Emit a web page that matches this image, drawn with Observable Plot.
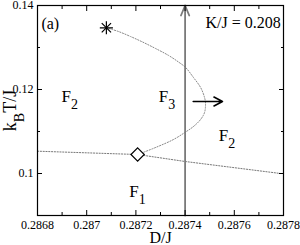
<!DOCTYPE html>
<html><head><meta charset="utf-8">
<script src="https://cdn.jsdelivr.net/npm/d3@7"></script>
<script src="https://cdn.jsdelivr.net/npm/@observablehq/plot@0.6"></script>
<style>
html,body{margin:0;padding:0;background:#fff;}
#chart svg, #chart svg text{font-family:"Liberation Serif","Times New Roman",Times,serif !important;}
#chart g[aria-label="x-axis label"] text{font-size:16px;}
#chart g[aria-label="y-axis label"] text{font-size:18px;}
</style></head><body><div id="chart"></div>
<script>
// ---- tick values and labels ----
const xMajor = [0.2868, 0.2870, 0.2872, 0.2874, 0.2876, 0.2878];
const xTickLabels = ["0.2868", "0.287", "0.2872", "0.2874", "0.2876", "0.2878"];
const xMinor = [0.2869, 0.2871, 0.2873, 0.2875, 0.2877];
const yMajor = [0.10, 0.12, 0.14];
const yTickLabels = ["0.1", "0.12", "0.14"];
const yMinor = [0.11, 0.13];

// ---- F3 boundary (from critical end point * to tricritical point diamond) ----
const curveD = [0.287080, 0.287129, 0.287178, 0.287227, 0.287280, 0.287333, 0.287373, 0.287402, 0.287434, 0.287463, 0.287479, 0.287483, 0.287479, 0.287463, 0.287434, 0.287402, 0.287353, 0.287280, 0.287207];
const curveT = [0.13469, 0.13381, 0.13262, 0.13131, 0.12976, 0.12810, 0.12655, 0.12524, 0.12286, 0.12048, 0.11810, 0.11667, 0.11452, 0.11286, 0.11119, 0.10988, 0.10810, 0.10619, 0.10452];

// ---- F1 / F2 boundary ----
const lowerD = [0.286800, 0.287207, 0.287400, 0.287788];
const lowerT = [0.10531, 0.10452, 0.10286, 0.10000];

// ---- special points ----
const starD = [0.287080], starT = [0.13469];
const diamondD = [0.287207], diamondT = [0.10452];

// ---- arrows ----
const vArrowD = [0.2874], vArrowT1 = [0.09], vArrowT2 = [0.14];
const hArrowD1 = [0.287433], hArrowD2 = [0.287552], hArrowT = [0.11714];

// ---- phase labels and notes ----
const phaseNames = ["F_{2}", "F_{3}", "F_{2}", "F_{1}"];
const phaseD = [0.286898, 0.287293, 0.287537, 0.287173];
const phaseT = [0.11843, 0.11843, 0.10914, 0.09581];
const noteTexts = ["(a)", "K/J = 0.208"];
const noteD = [0.286816, 0.287483];
const noteT = [0.13571, 0.13595];

const curve = curveD.map((d, i) => ({D: d, T: curveT[i]}));
const lower = lowerD.map((d, i) => ({D: d, T: lowerT[i]}));
const star = starD.map((d, i) => ({D: d, T: starT[i]}));
const diamond = diamondD.map((d, i) => ({D: d, T: diamondT[i]}));
const vArrow = vArrowD.map((d, i) => ({D: d, T1: vArrowT1[i], T2: vArrowT2[i]}));
const hArrow = hArrowT.map((t, i) => ({D1: hArrowD1[i], D2: hArrowD2[i], T: t}));
const phases = phaseNames.map((s, i) => ({s, D: phaseD[i], T: phaseT[i]}));
const notes = noteTexts.map((s, i) => ({s, D: noteD[i], T: noteT[i]}));

const fmtX = d => xTickLabels[xMajor.findIndex(v => Math.abs(v - d) < 1e-9)];
const fmtY = d => yTickLabels[yMajor.findIndex(v => Math.abs(v - d) < 1e-9)];
const blank = () => "";
const serif = "Liberation Serif, Times New Roman, serif";

const chart = Plot.plot({
  width: 300, height: 245,
  marginLeft: 37, marginRight: 17, marginTop: 5, marginBottom: 30,
  style: {background: "#fff", color: "#000", fontSize: "12px", fontFamily: serif},
  x: {domain: [0.2868, 0.2878]},
  y: {domain: [0.09, 0.14]},
  marks: [
    // dotted boundaries
    Plot.line(lower, {x: "D", y: "T", stroke: "#777", strokeWidth: 1, strokeDasharray: "1.2,1.6"}),
    Plot.line(curve, {x: "D", y: "T", curve: "catmull-rom", stroke: "#888", strokeWidth: 1, strokeDasharray: "1.2,1.6"}),
    // vertical path arrow: gray shaft, black head
    Plot.arrow(vArrow, {x: "D", y1: "T1", y2: "T2", stroke: "#7a7a7a", strokeWidth: 1.8, headLength: 9, headAngle: 45}),
    Plot.arrow(vArrow, {x: "D", y1: "T1", y2: "T2", stroke: "#000", strokeWidth: 1.8, headLength: 9, headAngle: 45, strokeDasharray: "0,210,60", strokeLinecap: "butt"}),
    // horizontal arrow
    Plot.arrow(hArrow, {x1: "D1", x2: "D2", y: "T", stroke: "#000", strokeWidth: 1.6, headLength: 9, headAngle: 55}),
    // special points
    Plot.dot(star, {x: "D", y: "T", symbol: "plus", r: 4.3, stroke: "#000", strokeWidth: 1.2}),
    Plot.dot(star, {x: "D", y: "T", symbol: "times", r: 4.3, stroke: "#000", strokeWidth: 1.2}),
    Plot.dot(diamond, {x: "D", y: "T", symbol: "diamond2", r: 6, stroke: "#000", fill: "#fff", strokeWidth: 1.2}),
    // labels
    Plot.text(phases, {x: "D", y: "T", text: "s", textAnchor: "start", fontSize: 17, fontFamily: serif}),
    Plot.text(notes, {x: "D", y: "T", text: "s", textAnchor: "start", fontSize: 16, fontFamily: serif}),
    // frame and axes (ticks inward on all sides)
    Plot.frame({stroke: "#000", strokeWidth: 1.2}),
    Plot.axisX({ticks: xMajor, tickFormat: fmtX, tickSize: -5, tickPadding: 10, label: "D/J", labelArrow: "none", labelAnchor: "center", labelOffset: 27}),
    Plot.axisX({ticks: xMinor, tickFormat: blank, tickSize: -3, label: null}),
    Plot.axisX({anchor: "top", ticks: xMajor, tickFormat: blank, tickSize: -5, label: null}),
    Plot.axisX({anchor: "top", ticks: xMinor, tickFormat: blank, tickSize: -3, label: null}),
    Plot.axisY({ticks: yMajor, tickFormat: fmtY, tickSize: -5, tickPadding: 9, label: "k_{B}T/J", labelArrow: "none", labelAnchor: "center", labelOffset: 34}),
    Plot.axisY({ticks: yMinor, tickFormat: blank, tickSize: -3, label: null}),
    Plot.axisY({anchor: "right", ticks: yMajor, tickFormat: blank, tickSize: -5, label: null}),
    Plot.axisY({anchor: "right", ticks: yMinor, tickFormat: blank, tickSize: -3, label: null})
  ]
});

// turn "X_{s}" markup into real subscripts (tspans)
d3.select(chart).selectAll("text").each(function() {
  const t = this.textContent;
  if (!t.includes("_{")) return;
  const el = d3.select(this);
  const isYLabel = this.closest('g[aria-label="y-axis label"]') !== null;
  const fs = isYLabel ? 18 : (parseFloat(el.attr("font-size")) || parseFloat(this.parentNode.getAttribute("font-size")) || 16);
  el.text(null);
  const parts = t.split(/_\{(.*?)\}/);
  let shifted = false;
  const drop = fs * 0.42;
  parts.forEach((p, k) => {
    if (p === "") return;
    const sub = k % 2 === 1;
    const ts = el.append("tspan").text(p);
    if (sub) { ts.style("font-size", Math.round(fs * 0.8) + "px").attr("dy", drop); shifted = true; }
    else if (shifted) { ts.attr("dy", -drop); shifted = false; }
  });
});
document.getElementById("chart").appendChild(chart);
</script>
</body></html>
